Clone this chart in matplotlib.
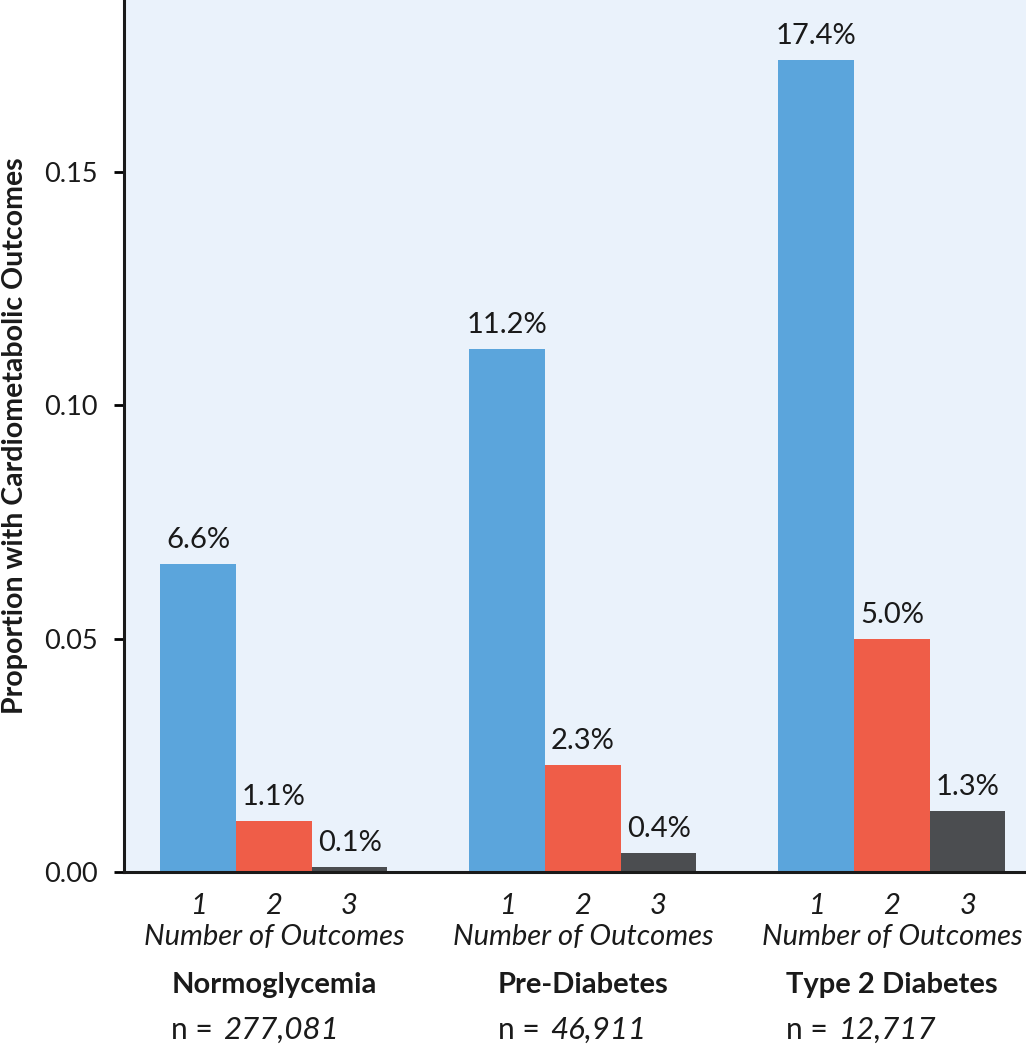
import matplotlib
matplotlib.use("Agg")
import matplotlib.pyplot as plt
import matplotlib.transforms as mtransforms
import numpy as np

plt.rcParams['font.family'] = ['Lato', 'DejaVu Sans']

groups = ["Normoglycemia", "Pre-Diabetes", "Type 2 Diabetes"]
n_counts = ["277,081", "46,911", "12,717"]
outcome_labels = ["1", "2", "3"]
one_outcome = [0.066, 0.112, 0.174]
two_outcomes = [0.011, 0.023, 0.050]
three_outcomes = [0.001, 0.004, 0.013]
value_labels = [["6.6%", "1.1%", "0.1%"],
                ["11.2%", "2.3%", "0.4%"],
                ["17.4%", "5.0%", "1.3%"]]
yticks = [0.00, 0.05, 0.10, 0.15]
colors = ["#5BA5DC", "#EF5D48", "#4B4D50"]
txt = "#1a1a1a"

fig = plt.figure(figsize=(10.26, 10.5), dpi=100)
ax = fig.add_axes([124/1026, 178/1050, 902/1026, 872/1050])
ax.set_facecolor("#EAF2FB")

x = np.arange(len(groups))
w = 0.245
series = [one_outcome, two_outcomes, three_outcomes]
for i, (vals, c) in enumerate(zip(series, colors)):
    pos = x + (i - 1) * w
    ax.bar(pos, vals, width=w, color=c, linewidth=0, zorder=2)
    for g in range(len(groups)):
        ax.annotate(value_labels[g][i], (pos[g], vals[g]), xytext=(0, 8),
                    textcoords="offset points", ha="center", va="bottom",
                    fontsize=21, color=txt)

ax.set_xlim(-0.485, 2.434)
ax.set_ylim(0, 0.1869)
ax.set_yticks(yticks)
ax.set_yticklabels([f"{t:.2f}" for t in yticks], fontsize=19.5, color=txt)
tick_pos = np.concatenate([x + (i - 1) * w for i in range(3)])
tick_lab = [outcome_labels[i] for i in range(3) for _ in groups]
ax.set_xticks(tick_pos)
ax.set_xticklabels(tick_lab, fontsize=21, style="italic", color=txt)
ax.tick_params(axis="x", length=0, pad=15)
ax.tick_params(axis="y", length=7, width=2, pad=12)
for s in ["top", "right"]:
    ax.spines[s].set_visible(False)
for s in ["left", "bottom"]:
    ax.spines[s].set_linewidth(2.2)
    ax.spines[s].set_color(txt)

fig.text(15/1026, 1 - 436/1050, "Proportion with Cardiometabolic Outcomes",
         rotation=90, ha="center", va="center", fontsize=20.5,
         fontweight="bold", color=txt)

trans = mtransforms.blended_transform_factory(ax.transData, fig.transFigure)
glabels = []
for g in range(len(groups)):
    ax.text(x[g], 1 - 937/1050, "Number of Outcomes", transform=trans,
            ha="center", va="center", fontsize=21, style="italic", color=txt)
    t = ax.text(x[g], 1 - 985/1050, groups[g], transform=trans,
                ha="center", va="center", fontsize=21, fontweight="bold", color=txt)
    glabels.append(t)

fig.canvas.draw()
renderer = fig.canvas.get_renderer()
for g, t in enumerate(glabels):
    bb = t.get_window_extent(renderer)
    xfig = bb.x0 / fig.bbox.width
    t1 = fig.text(xfig, 1 - 1030/1050, "n = ", ha="left", va="center",
                  fontsize=21.5, color=txt)
    fig.canvas.draw()
    bb1 = t1.get_window_extent(renderer)
    fig.text(bb1.x1 / fig.bbox.width + 3/1026, 1 - 1030/1050, n_counts[g], ha="left",
             va="center", fontsize=22.5, style="italic", color=txt)

fig.savefig("out.png", dpi=100)
